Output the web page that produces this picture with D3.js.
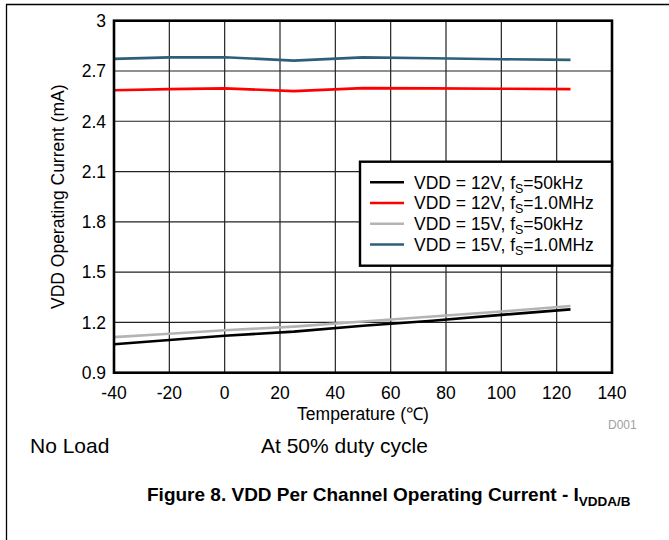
<!DOCTYPE html>
<html><head><meta charset="utf-8">
<script src="https://cdn.jsdelivr.net/npm/d3@7"></script>
<style>
body{margin:0;background:#fff;}
svg{display:block;font-family:"Liberation Sans",Arial,sans-serif;}
</style></head>
<body>
<svg id="c" width="669" height="540"></svg>
<script>
const temps = [-40, -20, 0, 25, 50, 75, 100, 125];
const vdd12_50k = [1.07, 1.095, 1.12, 1.145, 1.18, 1.21, 1.245, 1.278];
const vdd12_1M = [2.585, 2.592, 2.596, 2.58, 2.598, 2.596, 2.594, 2.592];
const vdd15_50k = [1.112, 1.132, 1.153, 1.175, 1.205, 1.235, 1.265, 1.298];
const vdd15_1M = [2.772, 2.781, 2.782, 2.762, 2.781, 2.776, 2.77, 2.766];
const xTicks = [-40, -20, 0, 20, 40, 60, 80, 100, 120, 140];
const yTicks = [0.9, 1.2, 1.5, 1.8, 2.1, 2.4, 2.7, 3];
const yTickLabels = ["0.9", "1.2", "1.5", "1.8", "2.1", "2.4", "2.7", "3"];
const seriesNames = [
  ["VDD = 12V, f", "S", "=50kHz"],
  ["VDD = 12V, f", "S", "=1.0MHz"],
  ["VDD = 15V, f", "S", "=50kHz"],
  ["VDD = 15V, f", "S", "=1.0MHz"]
];
const seriesValues = [vdd12_50k, vdd12_1M, vdd15_50k, vdd15_1M];
const seriesColors = ["#000000", "#ff0000", "#b4b4b4", "#2e5f7a"];

const svg = d3.select("#c");
const L = 114, R = 612, T = 20.7, B = 372.7;
const x = d3.scaleLinear().domain([-40, 140]).range([L, R]);
const y = d3.scaleLinear().domain([0.9, 3]).range([B, T]);

// outer border
svg.append("line").attr("x1", 6).attr("x2", 669).attr("y1", 4.5).attr("y2", 4.5).attr("stroke", "#000").attr("stroke-width", 1.3);
svg.append("line").attr("x1", 6.5).attr("x2", 6.5).attr("y1", 4).attr("y2", 540).attr("stroke", "#000").attr("stroke-width", 1.3);

// grid
const g = svg.append("g");
g.selectAll(".vg").data(xTicks.slice(1, -1)).join("line")
  .attr("x1", d => x(d)).attr("x2", d => x(d)).attr("y1", T).attr("y2", B)
  .attr("stroke", "#222").attr("stroke-width", 1.2);
g.selectAll(".hg").data(yTicks.slice(1, -1)).join("line")
  .attr("y1", d => y(d)).attr("y2", d => y(d)).attr("x1", L).attr("x2", R)
  .attr("stroke", "#222").attr("stroke-width", 1.2);

// axes labels
svg.append("g").selectAll("text").data(xTicks).join("text")
  .attr("x", d => x(d)).attr("y", 399).attr("text-anchor", "middle")
  .attr("font-size", 17.5).attr("fill", "#000").text(d => d);
svg.append("g").selectAll("text").data(yTicks).join("text")
  .attr("x", 106).attr("y", d => y(d) + 6.3).attr("text-anchor", "end")
  .attr("font-size", 17.5).attr("fill", "#000").text((d, i) => yTickLabels[i]);

svg.append("text").attr("x", (L + R) / 2).attr("y", 420).attr("text-anchor", "middle")
  .attr("font-size", 17.5).text("Temperature (℃)");
svg.append("text").attr("transform", `translate(64,${(T + B) / 2}) rotate(-90)`)
  .attr("text-anchor", "middle").attr("font-size", 17.5).text("VDD Operating Current (mA)");

// series lines
const line = d3.line().x((d, i) => x(temps[i])).y(d => y(d));
seriesValues.forEach((vals, k) => {
  svg.append("path").attr("d", line(vals)).attr("fill", "none")
    .attr("stroke", seriesColors[k]).attr("stroke-width", 2.6);
});

// frame
svg.append("rect").attr("x", L).attr("y", T).attr("width", R - L).attr("height", B - T)
  .attr("fill", "none").attr("stroke", "#000").attr("stroke-width", 2.6);

// legend
const lg = svg.append("g");
lg.append("rect").attr("x", 360).attr("y", 161.7).attr("width", R - 360).attr("height", 104)
  .attr("fill", "#fff").attr("stroke", "#000").attr("stroke-width", 2.4);
const rowY = [182.3, 203, 223.7, 244.5];
seriesNames.forEach((nm, k) => {
  lg.append("line").attr("x1", 370).attr("x2", 404).attr("y1", rowY[k]).attr("y2", rowY[k])
    .attr("stroke", seriesColors[k]).attr("stroke-width", 2.6);
  const t = lg.append("text").attr("x", 414).attr("y", rowY[k] + 6.3).attr("font-size", 17.5);
  t.append("tspan").text(nm[0]);
  t.append("tspan").attr("font-size", 12.5).attr("dy", 4).text(nm[1]);
  t.append("tspan").attr("dy", -4).text(nm[2]);
});

// D001
svg.append("text").attr("x", 608).attr("y", 429).attr("font-size", 12).attr("fill", "#a0a0a0").text("D001");

// notes
svg.append("text").attr("x", 30).attr("y", 453).attr("font-size", 21).text("No Load");
svg.append("text").attr("x", 261).attr("y", 453).attr("font-size", 21).text("At 50% duty cycle");

// caption
const cap = svg.append("text").attr("x", 147).attr("y", 501).attr("font-size", 19).attr("font-weight", "bold");
cap.append("tspan").text("Figure 8. VDD Per Channel Operating Current - I");
cap.append("tspan").attr("font-size", 13.5).attr("dy", 5).text("VDDA/B");
</script>
</body></html>
